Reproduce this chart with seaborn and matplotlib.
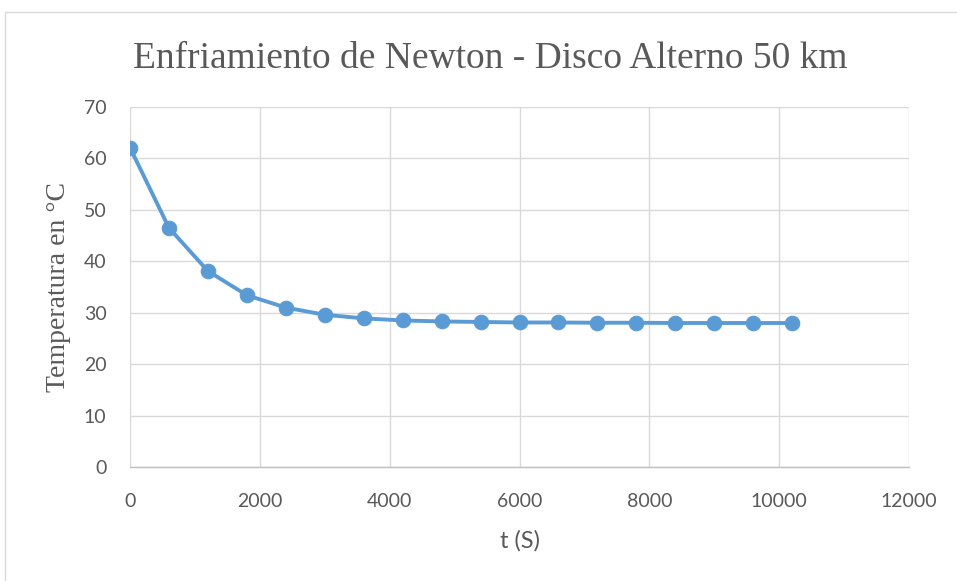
import matplotlib
matplotlib.use("Agg")
import matplotlib.pyplot as plt
import seaborn as sns
import pandas as pd
from matplotlib.patches import Rectangle

time_s = [0, 600, 1200, 1800, 2400, 3000, 3600, 4200, 4800, 5400, 6000,
          6600, 7200, 7800, 8400, 9000, 9600, 10200]
temp_c = [62.1, 46.5, 38.1, 33.4, 31.0, 29.6, 28.9, 28.5, 28.3, 28.2, 28.1,
          28.1, 28.05, 28.05, 28.0, 28.0, 28.0, 28.0]
x_ticks = [0, 2000, 4000, 6000, 8000, 10000, 12000]
y_ticks = [0, 10, 20, 30, 40, 50, 60, 70]

title = "Enfriamiento de Newton - Disco Alterno 50 km"
xlabel = "t (S)"
ylabel = "Temperatura en °C"

df = pd.DataFrame({"t": time_s, "T": temp_c})

sns.set_theme(style="white")
fig = plt.figure(figsize=(9.57, 5.81), dpi=100)
ax = fig.add_axes([130/957, 1-467/581, (909-130)/957, (467-107)/581])

line_color = "#5B9BD5"
sns.lineplot(data=df, x="t", y="T", ax=ax, color=line_color, linewidth=2.8,
             marker="o", markersize=10.5, markeredgecolor=line_color,
             markerfacecolor=line_color, zorder=3)

ax.set_xlim(0, 12000)
ax.set_ylim(0, 70)
ax.set_xticks(x_ticks)
ax.set_yticks(y_ticks)
ax.grid(True, color="#D9D9D9", linewidth=1.0)
ax.set_axisbelow(True)
for s in ["top", "right", "left"]:
    ax.spines[s].set_visible(False)
ax.spines["bottom"].set_color("#BFBFBF")
ax.spines["bottom"].set_linewidth(1.0)
ax.tick_params(axis="both", length=0, colors="#595959", labelsize=14)
ax.tick_params(axis="x", pad=19)
ax.tick_params(axis="y", pad=17)
for lab in ax.get_xticklabels() + ax.get_yticklabels():
    lab.set_family("Lato")

ax.set_xlabel(xlabel, family="Lato", fontsize=17, color="#595959", labelpad=14)
ax.set_ylabel(ylabel, family="Liberation Serif", fontsize=20, color="#595959", labelpad=9)

fig.text(490/957, 1-68/581, title, family="Liberation Serif", fontsize=27,
         color="#595959", ha="center", va="baseline")

fig.patches.append(Rectangle((5/957, -0.1), 1.2, 1 - 12/581 + 0.1,
                             transform=fig.transFigure, fill=False,
                             edgecolor="#D9D9D9", linewidth=1.0))

fig.savefig("out.png", dpi=100, facecolor="white")
